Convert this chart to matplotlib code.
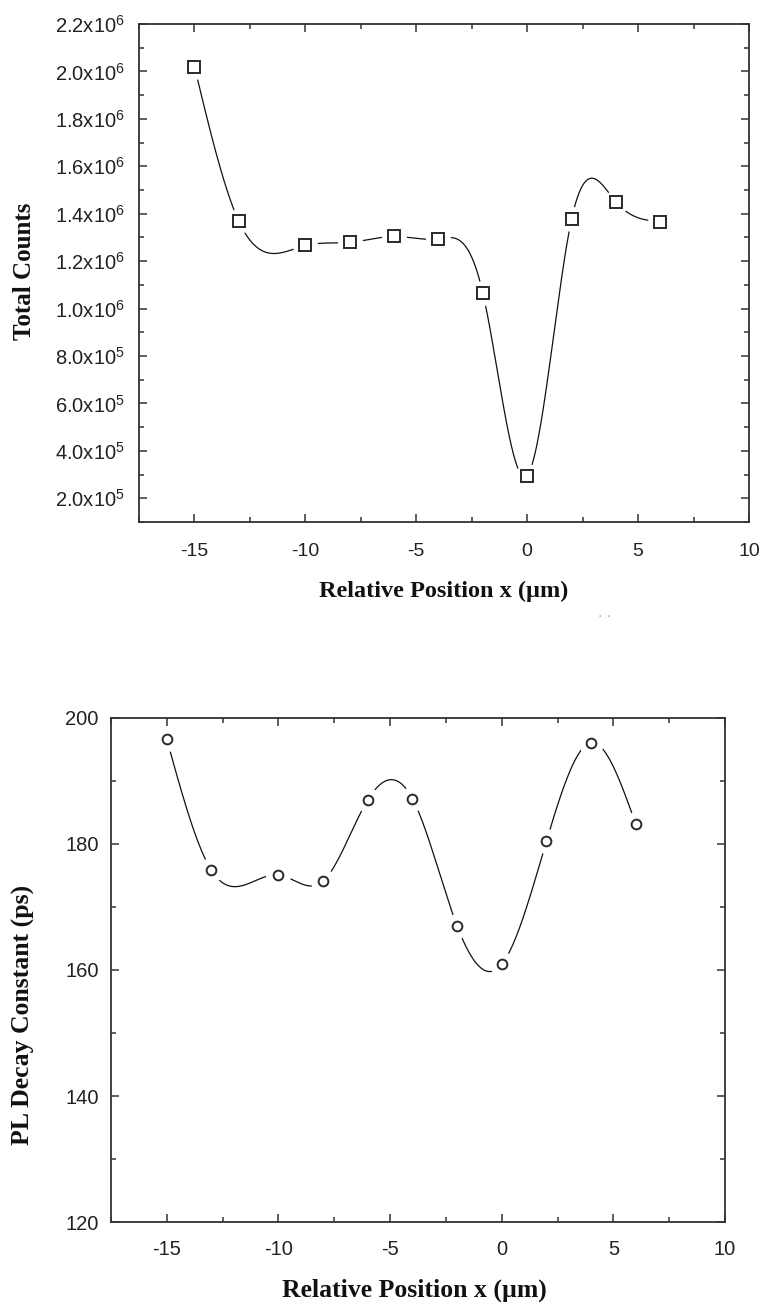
import numpy as np
import matplotlib
matplotlib.use("Agg")
import matplotlib.pyplot as plt
from matplotlib.ticker import MultipleLocator, FuncFormatter, FixedLocator

# ---------------- data ----------------
positions = [-15, -13, -10, -8, -6, -4, -2, 0, 2, 4, 6]
total_counts = [2.02e6, 1.368e6, 1.266e6, 1.279e6, 1.304e6, 1.294e6,
                1.066e6, 2.96e5, 1.376e6, 1.450e6, 1.367e6]
decay_ps = [196.6, 175.8, 175.1, 174.1, 187.0, 187.2,
            167.0, 160.9, 180.4, 196.1, 183.2]

top_yticks = [2e5, 4e5, 6e5, 8e5, 1.0e6, 1.2e6, 1.4e6, 1.6e6, 1.8e6, 2.0e6, 2.2e6]
bottom_yticks = [120, 140, 160, 180, 200]
xticks = [-15, -10, -5, 0, 5, 10]
xlabel_text = 'Relative Position x (µm)'
top_ylabel_text = 'Total Counts'
bottom_ylabel_text = 'PL Decay Constant (ps)'

plt.rcParams['mathtext.fontset'] = 'custom'
plt.rcParams['mathtext.rm'] = 'Liberation Sans'
plt.rcParams['mathtext.it'] = 'Liberation Sans'
plt.rcParams['mathtext.bf'] = 'Liberation Sans'


def natural_spline(x, y, n=600):
    x = np.asarray(x, float)
    y = np.asarray(y, float)
    m = len(x)
    h = np.diff(x)
    A = np.zeros((m, m))
    b = np.zeros(m)
    A[0, 0] = 1
    A[-1, -1] = 1
    for i in range(1, m - 1):
        A[i, i - 1] = h[i - 1]
        A[i, i] = 2 * (h[i - 1] + h[i])
        A[i, i + 1] = h[i]
        b[i] = 3 * ((y[i + 1] - y[i]) / h[i] - (y[i] - y[i - 1]) / h[i - 1])
    c = np.linalg.solve(A, b)
    xs = np.linspace(x[0], x[-1], n)
    ys = np.empty_like(xs)
    idx = np.clip(np.searchsorted(x, xs, side='right') - 1, 0, m - 2)
    for k, (xv, i) in enumerate(zip(xs, idx)):
        bb = (y[i + 1] - y[i]) / h[i] - h[i] * (2 * c[i] + c[i + 1]) / 3
        d = (c[i + 1] - c[i]) / (3 * h[i])
        t = xv - x[i]
        ys[k] = y[i] + bb * t + c[i] * t ** 2 + d * t ** 3
    return xs, ys


W, H = 765, 1306
fig = plt.figure(figsize=(W / 100, H / 100), dpi=100)
fig.patch.set_facecolor('white')

tick_color = '#222222'
spine_color = '#333333'
label_font = dict(family='Liberation Serif', weight='bold', color='#111111')


def style_axes(ax, fs):
    for s in ax.spines.values():
        s.set_linewidth(1.3)
        s.set_color(spine_color)
    ax.tick_params(which='both', direction='in', top=True, right=True,
                   color=spine_color, width=1.1)
    ax.tick_params(which='major', length=6, labelsize=fs, labelcolor=tick_color)
    ax.tick_params(which='minor', length=3.5)
    for lab in ax.get_xticklabels() + ax.get_yticklabels():
        lab.set_family('Liberation Sans')


def draw_series(ax, x, y, marker, ms):
    xs, ys = natural_spline(x, y)
    ax.plot(xs, ys, color='#111111', lw=0.9, zorder=2)
    ax.plot(x, y, linestyle='none', marker='o', ms=18, mfc='white',
            mec='none', zorder=3)
    ax.plot(x, y, linestyle='none', marker=marker, ms=ms, mfc='white',
            mec='#2a2a2a', mew=1.4, zorder=4)


def fx(px):
    return px / W


def fy(py):
    return 1 - py / H


# ---------------- top panel ----------------
ax1 = fig.add_axes([fx(139), fy(522), (749 - 139) / W, (522 - 24) / H])
draw_series(ax1, positions, total_counts, 's', 8)
ax1.set_xlim(-17.5, 10)
ax1.set_ylim(1e5, 2.2e6)
ax1.xaxis.set_major_locator(FixedLocator(xticks))
ax1.xaxis.set_minor_locator(MultipleLocator(2.5))
ax1.yaxis.set_major_locator(FixedLocator(top_yticks))
ax1.yaxis.set_minor_locator(MultipleLocator(1e5))


def sci_fmt(v, pos):
    e = int(np.floor(np.log10(v) + 1e-9))
    m = v / 10 ** e
    return f"{m:.1f}x10$^{{{e}}}$"


ax1.yaxis.set_major_formatter(FuncFormatter(sci_fmt))
ax1.xaxis.set_major_formatter(FuncFormatter(lambda v, p: f"{v:g}"))
style_axes(ax1, 14)
ax1.tick_params(axis='y', labelsize=14.5, pad=10)
ax1.tick_params(axis='x', pad=15)
fig.text(fx(444), fy(597), xlabel_text, fontsize=17.5, ha='center',
         va='baseline', **label_font)
fig.text(fx(25), fy(271), top_ylabel_text, fontsize=18, rotation=90,
         ha='center', va='center', **label_font)

# ---------------- bottom panel ----------------
ax2 = fig.add_axes([fx(111), fy(1222), (725 - 111) / W, (1222 - 718) / H])
draw_series(ax2, positions, decay_ps, 'o', 7)
ax2.set_xlim(-17.5, 10)
ax2.set_ylim(120, 200)
ax2.xaxis.set_major_locator(FixedLocator(xticks))
ax2.xaxis.set_minor_locator(MultipleLocator(2.5))
ax2.yaxis.set_major_locator(FixedLocator(bottom_yticks))
ax2.yaxis.set_minor_locator(MultipleLocator(10))
ax2.xaxis.set_major_formatter(FuncFormatter(lambda v, p: f"{v:g}"))
ax2.yaxis.set_major_formatter(FuncFormatter(lambda v, p: f"{v:g}"))
style_axes(ax2, 14.5)
ax2.tick_params(axis='y', pad=9)
ax2.tick_params(axis='x', pad=13)
fig.text(fx(414), fy(1297), xlabel_text, fontsize=18.5, ha='center',
         va='baseline', **label_font)
fig.text(fx(23), fy(1015), bottom_ylabel_text, fontsize=18.5, rotation=90,
         ha='center', va='center', **label_font)

fig.text(fx(605), fy(617), '· ·', color='#f0a030', fontsize=10,
         ha='center', va='center')

fig.savefig('out.png', dpi=100, facecolor='white')
